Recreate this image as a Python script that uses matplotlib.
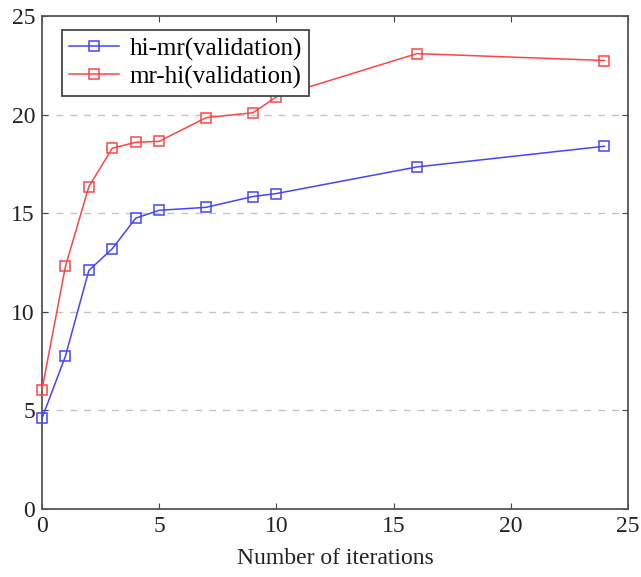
import matplotlib
matplotlib.use("Agg")
import matplotlib.pyplot as plt

iterations = [0, 1, 2, 3, 4, 5, 7, 9, 10, 16, 24]
hi_mr = [4.6, 7.75, 12.1, 13.2, 14.75, 15.15, 15.3, 15.85, 16.0, 17.35, 18.4]
mr_hi = [6.05, 12.3, 16.35, 18.3, 18.6, 18.65, 19.85, 20.1, 20.9, 23.1, 22.75]
x_ticks = [0, 5, 10, 15, 20, 25]
y_ticks = [0, 5, 10, 15, 20, 25]

plt.rcParams['font.family'] = ['Liberation Serif', 'DejaVu Serif']

fig = plt.figure(figsize=(6.41, 5.77), dpi=100)
ax = fig.add_axes([0.0655, 0.118, 0.914, 0.854])

for yv in [5, 10, 15, 20]:
    ax.axhline(yv, color='#c4c4c4', linestyle=(0, (5, 5)), linewidth=1.0, zorder=0)

ax.plot(iterations, hi_mr, color='#4444ff', marker='s', markersize=7,
        markerfacecolor='none', markeredgewidth=1.1, linewidth=1.1,
        label='hi-mr(validation)', clip_on=False, zorder=3)
ax.plot(iterations, mr_hi, color='#ff4444', marker='s', markersize=7,
        markerfacecolor='none', markeredgewidth=1.1, linewidth=1.1,
        label='mr-hi(validation)', clip_on=False, zorder=3)

ax.set_xlim(0, 25)
ax.set_ylim(0, 25)
ax.set_xticks(x_ticks)
ax.set_yticks(y_ticks)
ax.tick_params(direction='in', top=True, right=True, labelsize=17, length=4,
               color='#444444', labelcolor='#222222', pad=5)
for s in ax.spines.values():
    s.set_color('#555555')
    s.set_linewidth(1.3)
ax.set_xlabel('Number of iterations', fontsize=17, color='#222222', labelpad=8)

leg = ax.legend(loc='upper left', bbox_to_anchor=(0.034, 0.972), fontsize=18,
                fancybox=False, framealpha=1, edgecolor='#444444',
                handlelength=2.0, handletextpad=0.4, borderpad=0.3,
                labelspacing=0.2, borderaxespad=0)
leg.get_frame().set_linewidth(1.3)

fig.savefig('out.png', dpi=100)
